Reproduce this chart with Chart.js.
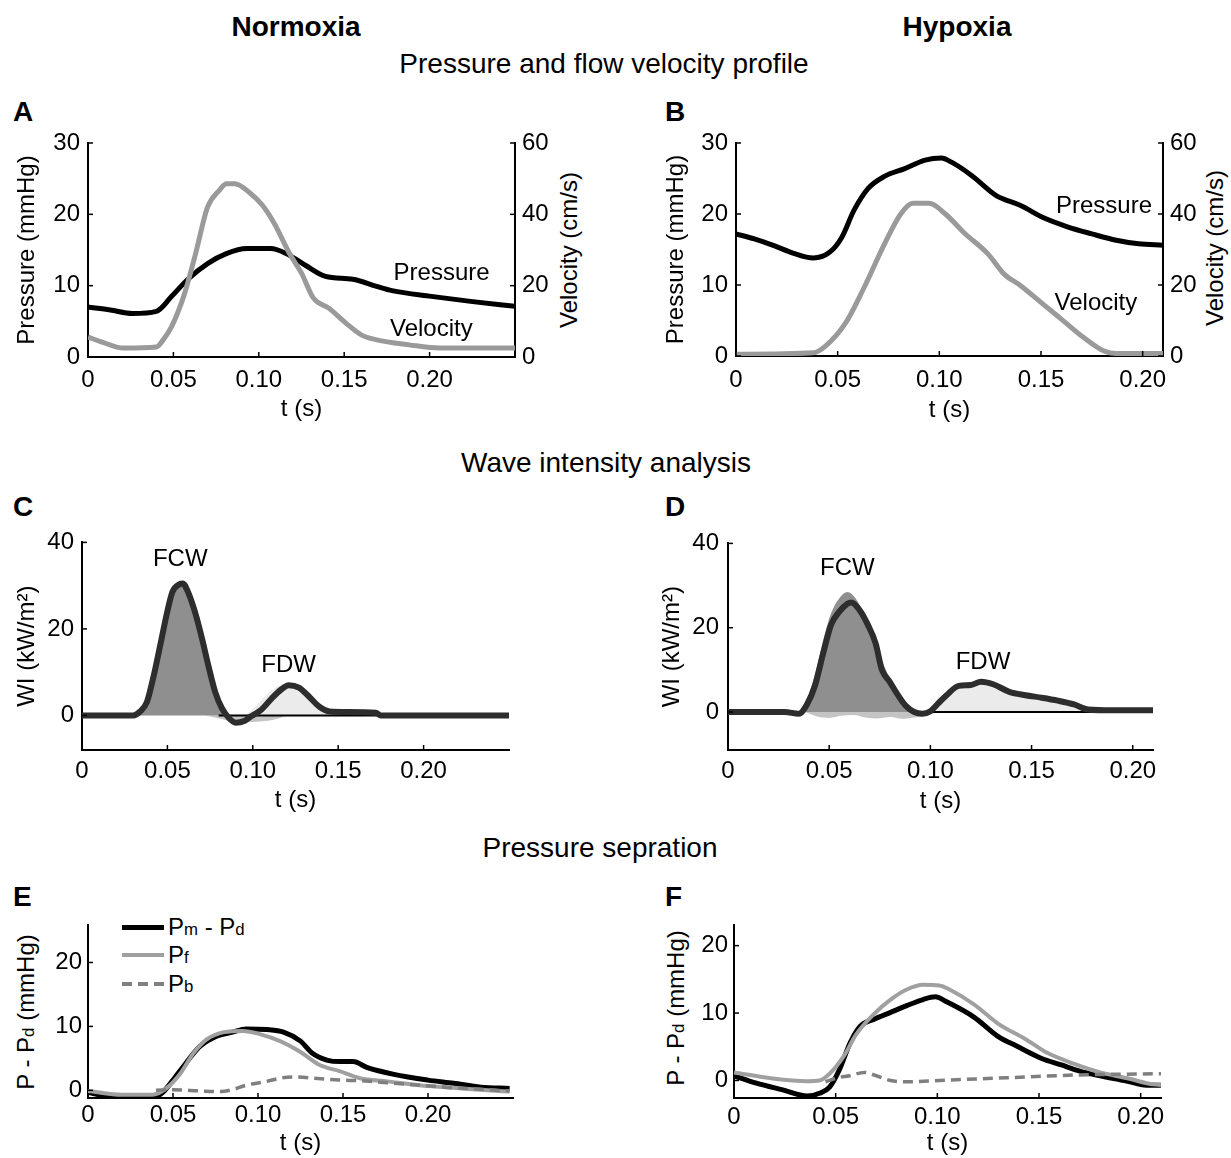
<!DOCTYPE html>
<html>
<head>
<meta charset="utf-8">
<script src="https://cdn.jsdelivr.net/npm/chart.js@4.4.1/dist/chart.umd.min.js"></script>
<style>
  body { margin: 0; background: #fff; }
  #page { position: relative; width: 1231px; height: 1158px; overflow: hidden; background: #fff;
          font-family: 'Liberation Sans', Arial, Helvetica, sans-serif; color: #000; }
  .txt { position: absolute; white-space: nowrap; transform: translate(-50%, -50%); }
  .head { font-size: 28px; font-weight: bold; }
  .sect { font-size: 28px; }
  .letter { position: absolute; font-size: 28px; font-weight: bold; transform: translate(0, -50%); }
  .vtitle { position: absolute; white-space: nowrap; font-size: 24px; transform: translate(-50%, -50%) rotate(-90deg); }
  .lg { position: absolute; font-size: 24px; white-space: nowrap; transform: translate(0, -50%); }
  .sw { position: absolute; width: 42px; }
  sub { font-size: 0.7em; vertical-align: baseline; }
</style>
</head>
<body>
<div id="page">
  <div class="txt head" style="left:296px; top:27px;">Normoxia</div>
  <div class="txt head" style="left:957px; top:27px;">Hypoxia</div>
  <div class="txt sect" style="left:604px; top:64px;">Pressure and flow velocity profile</div>
  <div class="txt sect" style="left:606px; top:463px;">Wave intensity analysis</div>
  <div class="txt sect" style="left:600px; top:848px;">Pressure sepration</div>

  <div class="letter" style="left:13px; top:112px;">A</div>
  <div class="letter" style="left:665px; top:112px;">B</div>
  <div class="letter" style="left:13px; top:507px;">C</div>
  <div class="letter" style="left:665px; top:507px;">D</div>
  <div class="letter" style="left:13px; top:897px;">E</div>
  <div class="letter" style="left:665px; top:897px;">F</div>

  <div class="vtitle" style="left:569px; top:250px;">Velocity (cm/s)</div>
  <div class="vtitle" style="left:1215px; top:248px;">Velocity (cm/s)</div>
  <div class="vtitle" style="left:26px; top:1012px;">P - P<sub>d</sub> (mmHg)</div>
  <div class="vtitle" style="left:676px; top:1008px;">P - P<sub>d</sub> (mmHg)</div>

  <!-- legend of panel E -->
  <div class="sw" style="left:122px; top:925px; height:5px; background:#000;"></div>
  <div class="lg" style="left:168px; top:927px;">P<sub>m</sub> - P<sub>d</sub></div>
  <div class="sw" style="left:122px; top:953px; height:4px; background:#a0a0a0;"></div>
  <div class="lg" style="left:168px; top:955px;">P<sub>f</sub></div>
  <div class="sw" style="left:122px; top:982px; height:4px; background:repeating-linear-gradient(90deg, #7f7f7f 0 10px, transparent 10px 16px);"></div>
  <div class="lg" style="left:168px; top:984px;">P<sub>b</sub></div>
</div>

<script>
// tick labels
const tTicks = [0, 0.05, 0.10, 0.15, 0.20];
const pressTicks = [0, 10, 20, 30];
const velTicks = [0, 20, 40, 60];
const wiTicks = [0, 20, 40];
const sepTicks = [0, 10, 20];

// A - normoxia pressure (mmHg) and velocity (cm/s)
const tPressA = [0, 0.013, 0.026, 0.04, 0.049, 0.058, 0.07, 0.081, 0.093, 0.107, 0.116, 0.127, 0.139, 0.155, 0.169, 0.178, 0.201, 0.224, 0.25];
const pressA = [7.0, 6.6, 6.1, 6.4, 8.5, 10.8, 13.1, 14.5, 15.2, 15.2, 14.5, 12.9, 11.3, 10.9, 9.9, 9.3, 8.5, 7.8, 7.1];
const tVelA = [0, 0.007, 0.021, 0.04, 0.044, 0.049, 0.056, 0.063, 0.07, 0.077, 0.081, 0.086, 0.095, 0.102, 0.109, 0.118, 0.125, 0.132, 0.141, 0.151, 0.16, 0.169, 0.188, 0.206, 0.25];
const velA = [5.6, 4.4, 2.5, 2.8, 4.8, 8.6, 17, 29, 42, 46.8, 48.6, 48.6, 45.9, 42.6, 37.5, 29, 23.5, 16.5, 13.7, 9.5, 6.2, 4.8, 3.4, 2.5, 2.5];

// B - hypoxia pressure and velocity
const tPressB = [0, 0.009, 0.019, 0.028, 0.038, 0.046, 0.052, 0.058, 0.065, 0.073, 0.083, 0.093, 0.101, 0.106, 0.116, 0.128, 0.14, 0.151, 0.163, 0.175, 0.187, 0.198, 0.21];
const pressB = [17.2, 16.5, 15.5, 14.5, 13.8, 14.6, 16.7, 20.5, 23.6, 25.3, 26.4, 27.6, 27.9, 27.3, 25.4, 22.6, 21.2, 19.5, 18.2, 17.2, 16.3, 15.8, 15.6];
const tVelB = [0, 0.038, 0.044, 0.054, 0.063, 0.073, 0.081, 0.087, 0.095, 0.103, 0.112, 0.124, 0.132, 0.14, 0.151, 0.161, 0.171, 0.181, 0.187, 0.21];
const velB = [0.5, 0.9, 2.8, 9.4, 19.3, 31.5, 40, 43, 43, 40, 34.8, 28.7, 23, 19.8, 14.6, 9.9, 5.2, 1.4, 0.7, 0.7];

// C - normoxia wave intensity (kW/m2)
const tWiC = [0, 0.03, 0.034, 0.038, 0.042, 0.046, 0.05, 0.053, 0.057, 0.059, 0.062, 0.066, 0.07, 0.074, 0.078, 0.082, 0.086, 0.09, 0.095, 0.099, 0.105, 0.111, 0.117, 0.121, 0.127, 0.133, 0.139, 0.145, 0.155, 0.172, 0.175, 0.25];
const wiC = [0, 0, 0.9, 3.1, 9.2, 16.6, 24.1, 28.6, 30.3, 30.5, 28.6, 24.1, 18.2, 11.5, 5.4, 1.6, -0.6, -1.7, -1.3, -0.2, 1.3, 3.9, 6.1, 7.0, 6.4, 4.3, 2.0, 0.9, 0.8, 0.6, 0, 0];
const tFcwC = [0.03, 0.034, 0.038, 0.042, 0.046, 0.05, 0.053, 0.057, 0.059, 0.062, 0.066, 0.07, 0.074, 0.078, 0.082, 0.086];
const fcwC = [0, 0.9, 3.1, 9.2, 16.6, 24.1, 28.6, 30.3, 30.5, 28.6, 24.1, 18.2, 11.5, 5.4, 1.8, 0];
const tFdwC = [0.095, 0.1, 0.105, 0.11, 0.116, 0.121, 0.127, 0.133, 0.139, 0.145, 0.15, 0.16];
const fdwC = [0, 1.5, 3.5, 5.5, 7.0, 7.4, 6.6, 4.5, 2.3, 1.0, 0.5, 0];
const tBwC = [0.072, 0.078, 0.085, 0.092, 0.1, 0.108, 0.115, 0.12];
const bwC = [0, -0.5, -1.2, -1.6, -1.5, -1.3, -0.7, 0];

// D - hypoxia wave intensity
const tWiD = [0, 0.028, 0.035, 0.039, 0.043, 0.047, 0.051, 0.055, 0.059, 0.061, 0.065, 0.069, 0.073, 0.076, 0.08, 0.084, 0.088, 0.092, 0.096, 0.1, 0.104, 0.108, 0.114, 0.12, 0.125, 0.131, 0.139, 0.147, 0.155, 0.163, 0.171, 0.178, 0.19, 0.21];
const wiD = [0, 0, -0.4, 1.8, 6.3, 13.9, 20.8, 23.8, 25.7, 26.0, 24.2, 20.8, 16.2, 10.1, 7.1, 4.0, 1.4, 0, -0.4, 0.2, 2.1, 4.0, 6.2, 6.4, 7.2, 6.6, 4.8, 4.0, 3.4, 2.7, 1.8, 0.6, 0.4, 0.4];
const tFcwD = [0.035, 0.039, 0.043, 0.047, 0.051, 0.055, 0.059, 0.063, 0.067, 0.071, 0.075, 0.079, 0.083, 0.087, 0.091, 0.095];
const fcwD = [0, 3, 9, 17, 23.5, 27, 28.5, 27, 23.5, 19, 13.5, 9, 5.5, 2.5, 0.8, 0];
const tFdwD = [0.096, 0.1, 0.104, 0.108, 0.114, 0.12, 0.125, 0.131, 0.139, 0.147, 0.155, 0.163, 0.171, 0.178, 0.185];
const fdwD = [0, 0.8, 2.8, 4.8, 6.8, 7.0, 7.8, 7.2, 5.4, 4.6, 4.0, 3.2, 2.2, 1.0, 0];
const tBwD = [0.038, 0.045, 0.05, 0.056, 0.062, 0.068, 0.074, 0.08, 0.086, 0.092, 0.098, 0.104];
const bwD = [0, -1.2, -1.4, -0.9, -0.7, -1.3, -1.5, -1.2, -1.6, -1.3, -0.8, 0];

// E - normoxia pressure separation (mmHg)
const tPmE = [0, 0.017, 0.038, 0.044, 0.05, 0.058, 0.066, 0.076, 0.085, 0.093, 0.105, 0.115, 0.125, 0.132, 0.141, 0.148, 0.156, 0.164, 0.18, 0.2, 0.215, 0.231, 0.248];
const pmE = [-0.3, -1.2, -1.2, -0.3, 1.6, 4.4, 6.9, 8.5, 9.1, 9.6, 9.5, 9.1, 7.7, 5.8, 4.7, 4.5, 4.5, 3.6, 2.5, 1.6, 1.1, 0.5, 0.3];
const tPfE = [0, 0.02, 0.038, 0.046, 0.054, 0.062, 0.07, 0.08, 0.091, 0.101, 0.113, 0.125, 0.136, 0.148, 0.16, 0.176, 0.195, 0.215, 0.235, 0.248];
const pfE = [-0.1, -0.7, -0.7, 0.3, 2.5, 5.8, 8.0, 9.1, 9.3, 8.8, 7.7, 6.0, 4.0, 3.0, 1.9, 1.4, 0.8, 0.4, 0, -0.2];
const tPbE = [0.04, 0.05, 0.066, 0.078, 0.085, 0.093, 0.105, 0.113, 0.121, 0.137, 0.148, 0.16, 0.176, 0.195, 0.215, 0.235, 0.248];
const pbE = [0, 0.1, -0.1, -0.2, 0.1, 0.8, 1.4, 1.9, 2.1, 1.8, 1.6, 1.5, 1.2, 0.8, 0.4, 0.1, -0.1];

// F - hypoxia pressure separation
const tPmF = [0, 0.011, 0.024, 0.036, 0.042, 0.047, 0.052, 0.057, 0.062, 0.069, 0.077, 0.085, 0.093, 0.099, 0.105, 0.118, 0.13, 0.139, 0.151, 0.161, 0.17, 0.18, 0.192, 0.203, 0.21];
const pmF = [0.7, -0.4, -1.4, -2.3, -1.9, -1.0, 1.7, 5.5, 8.0, 9.1, 10.1, 11.1, 12.0, 12.4, 11.6, 9.4, 6.5, 5.1, 3.3, 2.3, 1.4, 0.7, 0, -0.7, -0.7];
const tPfF = [0, 0.019, 0.036, 0.042, 0.047, 0.054, 0.06, 0.069, 0.077, 0.085, 0.093, 0.101, 0.106, 0.118, 0.13, 0.143, 0.154, 0.167, 0.18, 0.194, 0.203, 0.21];
const pfF = [1.2, 0.3, -0.1, 0, 1.0, 3.6, 6.8, 9.9, 12.0, 13.5, 14.2, 14.1, 13.5, 11.3, 8.4, 6.2, 4.1, 2.5, 1.2, 0.3, -0.4, -0.7];
const tPbF = [0.045, 0.051, 0.057, 0.064, 0.07, 0.077, 0.085, 0.101, 0.134, 0.167, 0.21];
const pbF = [-0.2, 0.4, 0.7, 1.2, 0.7, 0, -0.2, 0, 0.4, 0.8, 1.0];

Chart.defaults.font.family = "'Liberation Sans', Arial, Helvetica, sans-serif";
Chart.defaults.font.size = 24;
Chart.defaults.color = '#000';
const LH = 24 * 1.2;

const pts = (ts, vs) => ts.map((t, i) => ({ x: t, y: vs[i] }));

// small inward tick marks, like the original matlab axes
const innerTicks = {
  id: 'innerTicks',
  afterDraw(chart) {
    const ctx = chart.ctx, a = chart.chartArea;
    ctx.save();
    ctx.strokeStyle = '#000';
    ctx.lineWidth = 1.5;
    Object.values(chart.scales).forEach(s => {
      s.ticks.forEach(t => {
        const p = s.getPixelForValue(t.value);
        ctx.beginPath();
        if (s.axis === 'x') { ctx.moveTo(p, a.bottom); ctx.lineTo(p, a.bottom - 5); }
        else if (s.position === 'left') { ctx.moveTo(a.left, p); ctx.lineTo(a.left + 5, p); }
        else { ctx.moveTo(a.right, p); ctx.lineTo(a.right - 5, p); }
        ctx.stroke();
      });
    });
    ctx.restore();
  }
};

// text annotations placed in data coordinates
const notes = {
  id: 'notes',
  afterDatasetsDraw(chart, args, opts) {
    const ctx = chart.ctx;
    ctx.save();
    ctx.font = "24px 'Liberation Sans', Arial, sans-serif";
    ctx.fillStyle = '#000';
    ctx.textAlign = 'center';
    ctx.textBaseline = 'middle';
    (opts.items || []).forEach(n => {
      ctx.fillText(n.text, chart.scales.x.getPixelForValue(n.x), chart.scales.y.getPixelForValue(n.y));
    });
    ctx.restore();
  }
};

function xScale(max, box, plot, labelY, titleY) {
  return {
    type: 'linear', position: 'bottom', min: 0, max: max,
    grid: { display: false, drawTicks: false },
    border: { display: true, color: '#000', width: 2 },
    ticks: { padding: labelY - plot.b - LH / 2 + 2, maxRotation: 0, autoSkip: false,
             callback: v => v === 0 ? '0' : v.toFixed(2) },
    afterBuildTicks: s => { s.ticks = tTicks.map(v => ({ value: v })); },
    title: { display: true, text: 't (s)', padding: { top: 0, bottom: Math.max(0, box.y + box.h - titleY - LH / 2) } },
    afterFit: s => { s.height = box.y + box.h - plot.b; }
  };
}

function yScale(min, max, tickArr, box, plot, gap, title, titleX) {
  return {
    type: 'linear', position: 'left', min: min, max: max,
    grid: { display: false, drawTicks: false },
    border: { display: true, color: '#000', width: 2 },
    ticks: { padding: gap },
    afterBuildTicks: s => { s.ticks = tickArr.map(v => ({ value: v })); },
    title: { display: !!title, text: title || '', padding: { top: titleX ? titleX - box.x - LH / 2 : 0, bottom: 0 } },
    afterFit: s => { s.width = plot.l - box.x; }
  };
}

function y2Scale(box, plot) {
  return {
    type: 'linear', position: 'right', min: 0, max: 60,
    grid: { display: false, drawTicks: false },
    border: { display: true, color: '#000', width: 2 },
    ticks: { padding: 7 },
    afterBuildTicks: s => { s.ticks = velTicks.map(v => ({ value: v })); },
    afterFit: s => { s.width = box.x + box.w - plot.r; }
  };
}

function makeChart(box, plot, scales, datasets, noteItems) {
  const cv = document.createElement('canvas');
  cv.width = box.w;
  cv.height = box.h;
  cv.style.position = 'absolute';
  cv.style.left = box.x + 'px';
  cv.style.top = box.y + 'px';
  document.getElementById('page').appendChild(cv);
  return new Chart(cv, {
    type: 'line',
    data: { datasets: datasets },
    options: {
      responsive: false,
      animation: false,
      layout: { padding: { left: 0, bottom: 0, top: plot.t - box.y, right: scales.y2 ? 0 : box.x + box.w - plot.r } },
      scales: scales,
      plugins: { legend: { display: false }, tooltip: { enabled: false }, notes: { items: noteItems || [] } }
    },
    plugins: [innerTicks, notes]
  });
}

function curve(data, color, width, order, extra) {
  return Object.assign({ data: data, borderColor: color, borderWidth: width, pointRadius: 0,
    fill: false, order: order, cubicInterpolationMode: 'monotone' }, extra || {});
}
function area(data, color, order) {
  return { data: data, borderColor: 'rgba(0,0,0,0)', borderWidth: 0, backgroundColor: color,
    pointRadius: 0, fill: 'origin', order: order, cubicInterpolationMode: 'monotone' };
}

// ---- A
let box = { x: 0, y: 120, w: 610, h: 305 }, plot = { l: 88, t: 143, r: 515, b: 357 };
makeChart(box, plot, {
  x: xScale(0.25, box, plot, 378, 409),
  y: yScale(0, 30, pressTicks, box, plot, 8, 'Pressure (mmHg)', 27.5),
  y2: y2Scale(box, plot)
}, [
  curve(pts(tVelA, velA), '#9a9a9a', 5, 0, { yAxisID: 'y2' }),
  curve(pts(tPressA, pressA), '#000', 5, 1)
], [{ text: 'Pressure', x: 0.207, y: 11.7 }, { text: 'Velocity', x: 0.201, y: 3.9 }]);

// ---- B
box = { x: 615, y: 120, w: 616, h: 305 }; plot = { l: 736, t: 143, r: 1163, b: 356 };
makeChart(box, plot, {
  x: xScale(0.21, box, plot, 378, 410),
  y: yScale(0, 30, pressTicks, box, plot, 8, 'Pressure (mmHg)', 676),
  y2: y2Scale(box, plot)
}, [
  curve(pts(tVelB, velB), '#9a9a9a', 5, 0, { yAxisID: 'y2' }),
  curve(pts(tPressB, pressB), '#000', 5, 1)
], [{ text: 'Pressure', x: 0.181, y: 21.1 }, { text: 'Velocity', x: 0.177, y: 7.4 }]);

// ---- C
box = { x: 0, y: 520, w: 610, h: 300 }; plot = { l: 82, t: 537, r: 509, b: 750 };
makeChart(box, plot, {
  x: xScale(0.25, box, plot, 769, 800),
  y: yScale(-8, 40, wiTicks, box, plot, 8, 'WI (kW/m²)', 27.5)
}, [
  curve(pts(tWiC, wiC), '#2d2d2d', 6, 0),
  curve(pts([0.08, 0.25], [0, 0]), '#000', 2, 1),
  area(pts(tFcwC, fcwC), '#8f8f8f', 2),
  area(pts(tFdwC, fdwC), '#ebebeb', 3),
  area(pts(tBwC, bwC), '#c4c4c4', 4)
], [{ text: 'FCW', x: 0.0575, y: 36 }, { text: 'FDW', x: 0.121, y: 11.5 }]);

// ---- D
box = { x: 615, y: 520, w: 616, h: 300 }; plot = { l: 728, t: 536, r: 1153, b: 750 };
makeChart(box, plot, {
  x: xScale(0.21, box, plot, 769, 801),
  y: yScale(-9, 40, wiTicks, box, plot, 9, 'WI (kW/m²)', 672)
}, [
  curve(pts(tWiD, wiD), '#2d2d2d', 6, 0),
  curve(pts([0.09, 0.21], [0, 0]), '#000', 2, 1),
  area(pts(tFcwD, fcwD), '#8f8f8f', 2),
  area(pts(tFdwD, fdwD), '#ebebeb', 3),
  area(pts(tBwD, bwD), '#c4c4c4', 4)
], [{ text: 'FCW', x: 0.059, y: 34 }, { text: 'FDW', x: 0.126, y: 11.8 }]);

// ---- E
box = { x: 0, y: 905, w: 610, h: 253 }; plot = { l: 88, t: 920, r: 513, b: 1098 };
makeChart(box, plot, {
  x: xScale(0.25, box, plot, 1113, 1144),
  y: yScale(-1.2, 25.8, sepTicks, box, plot, 6, null, 0)
}, [
  curve(pts(tPbE, pbE), '#7f7f7f', 3.5, 0, { borderDash: [10, 6] }),
  curve(pts(tPfE, pfE), '#a0a0a0', 4, 1),
  curve(pts(tPmE, pmE), '#000', 5, 2)
]);

// ---- F
box = { x: 615, y: 905, w: 616, h: 253 }; plot = { l: 734, t: 921, r: 1161, b: 1098 };
makeChart(box, plot, {
  x: xScale(0.21, box, plot, 1115, 1146),
  y: yScale(-2.6, 23, sepTicks, box, plot, 6, null, 0)
}, [
  curve(pts(tPbF, pbF), '#7f7f7f', 3.5, 0, { borderDash: [10, 6] }),
  curve(pts(tPfF, pfF), '#a0a0a0', 4, 1),
  curve(pts(tPmF, pmF), '#000', 5, 2)
]);
</script>
</body>
</html>
